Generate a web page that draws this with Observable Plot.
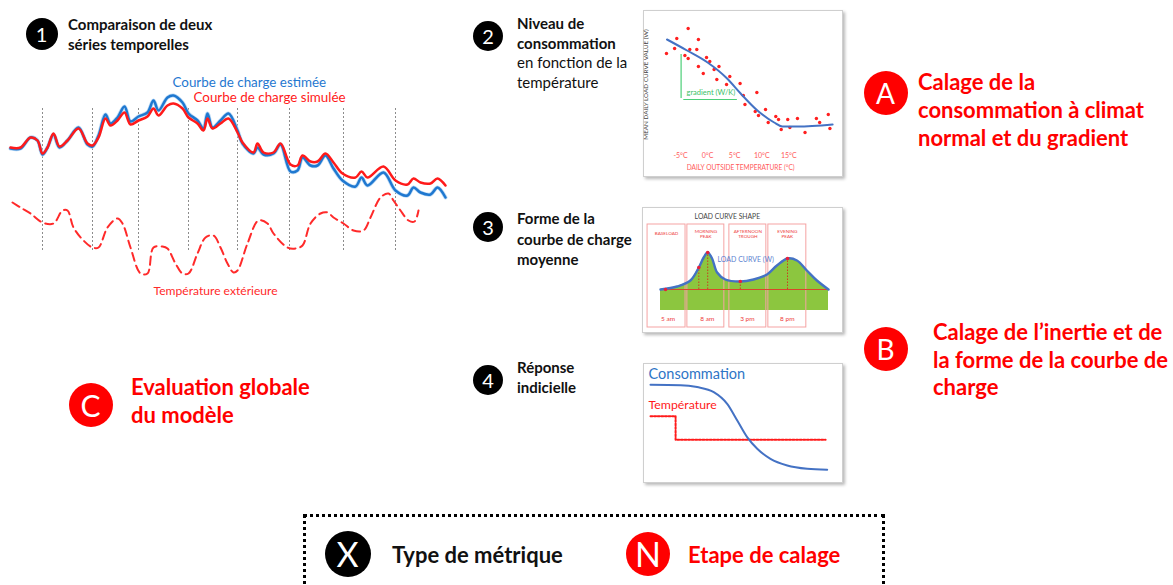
<!DOCTYPE html>
<html><head><meta charset="utf-8">
<script src="https://cdn.jsdelivr.net/npm/d3@7"></script>
<script src="https://cdn.jsdelivr.net/npm/@observablehq/plot@0.6"></script>
<style>
body{margin:0;background:#fff;}
#root{position:relative;width:1173px;height:585px;overflow:hidden;font-family:Lato,"Open Sans",sans-serif;background:#fff;}
.circ{position:absolute;border-radius:50%;display:flex;align-items:center;justify-content:center;color:#fff;line-height:1;}
.box{position:absolute;box-sizing:border-box;border:1px solid #cfcfcf;box-shadow:2px 2px 3px rgba(0,0,0,0.28);background:#fff;}
.txt{position:absolute;white-space:nowrap;}
svg{overflow:visible;}
</style></head><body><div id="root"></div><script>
// ---------- Panel 1 : two time series + outside temperature ----------
const t1 = [10,20,30,37,42,47,53,59,67,78,87,92,98,105,110,117,124,130,138,147,153,158,167,173,182,188,197,203,207,212,220,228,237,242,253,257,263,273,280,290,297,302,310,317,325,333,342,355,361,367,383,395,407,413,420,430,437,445];
const simulee = [183,183,193,190,177,183,197,184,190,202,187,185,193,212,205,210,218,206,210,214,222,215,225,227,222,213,207,200,212,202,207,212,198,188,178,187,178,178,187,166,165,175,169,169,177,168,157,153,159,153,164,150,146,152,148,147,152,145];
const estimee = [182,182,193,190,176,183,196,183,190,203,186,184,195,216,207,213,224,209,214,218,230,220,233,235,228,217,210,202,217,203,210,217,200,187,177,183,176,177,186,159,160,173,165,165,175,162,150,144,153,145,158,140,135,143,138,136,143,133];
const tTemp = [12,20,30,42,53,62,67,73,83,92,98,107,117,122,130,140,147,153,162,167,175,182,188,197,205,213,220,227,233,237,247,258,267,273,287,295,302,310,320,327,333,343,353,363,370,380,388,393,400,408,414,418];
const tempExt = [128,123,117,108,107,120,120,103,90,83,83,103,112,107,83,57,57,83,84,82,67,57,57,77,93,95,83,67,58,60,87,110,107,97,83,82,85,107,117,118,113,107,100,100,113,133,137,130,120,110,109,120];
const gridT = [42,92,138,188,237,289,343,395];

// ---------- Panel 2 : consumption vs temperature ----------
const scatterT = [-7.6,-6.1,-5.7,-3.6,-3.3,-4.2,-3.6,-1.7,-2.0,-1.7,-0.8,-0.2,0.4,1.2,1.7,2.1,3.5,4.1,6.0,6.6,6.9,9.1,8.8,9.4,10.7,11.2,12.6,13.1,13.6,14.8,15.2,16.6,18.0,20.1,20.7,22.3,22.6];
const scatterW = [97,102,112,122,101,95,92,111,101,84,77,93,89,81,71,84,66,74,67,55,46,58,39,35,41,28,34,31,21,31,23,32,18,32,28,36,22];
const fitT = [-7.5,-3.8,0,3.6,6.1,9.2,12.3,13.8,16.6,23.1];
const fitW = [111,100,88,72,57,40,28,24,24,26];
const tempTicks = [-5,0,5,10,15];

// ---------- Panel 3 : load curve shape ----------
const shapeX = [0,9.9,17.8,22.8,25.7,28.1,30.7,33.7,38.6,47.5,55.4,63.4,69.3,75.6,81.2,87.1,93.1,100];
const shapeW = [21,24,30,43,53,58,52,38,31,29,31,36,45,52,50,40,30,21];
const periods = ["BASELOAD","MORNING\nPEAK","AFTERNOON\nTROUGH","EVENING\nPEAK"];
const periodX1 = [-7.7,16.0,41.0,64.2];
const periodX2 = [14.9,38.0,63.0,86.8];
const hours = ["5 am","8 am","3 pm","8 pm"];
const hourX = [4.5,27.9,51.7,75.5];
const markX = [3,22.8,28.1,47.5,75.6];
const markW = [21,43,58,29,52];
const baseW = 21;

// ---------- Panel 4 : step response ----------
const stepT = [0,17,26.4,35.8,43.4,49.1,54.7,60.4,67.9,77.4,88.7,100];
const consoV = [100,99.6,97.3,91.4,77.6,58,38.4,24.7,12.9,5.1,1.2,0];
const tempStepT = [0,14.2,14.2,99.1];
const tempStepV = [63.1,63.1,35.3,35.3];

const root = document.getElementById("root");
const RED = "#ff0000";
function addTxt(lines, left, top, size, lh, color, weights){
  const d = document.createElement("div");
  d.className = "txt";
  d.style.left = left+"px"; d.style.top = top+"px";
  d.style.fontSize = size+"px"; d.style.lineHeight = lh+"px"; d.style.color = color;
  lines.forEach((l,i)=>{const s=document.createElement("div"); s.textContent=l; s.style.fontWeight=(weights?weights[i]:700); d.appendChild(s);});
  root.appendChild(d);
}
function addCirc(label, cx, cy, dia, bg, size){
  const d = document.createElement("div");
  d.className = "circ";
  d.style.left=(cx-dia/2)+"px"; d.style.top=(cy-dia/2)+"px";
  d.style.width=dia+"px"; d.style.height=dia+"px"; d.style.background=bg; d.style.fontSize=size+"px";
  d.textContent = label;
  root.appendChild(d);
}
function addBox(left, top, w, h){
  const d=document.createElement("div"); d.className="box";
  d.style.left=left+"px"; d.style.top=top+"px"; d.style.width=w+"px"; d.style.height=h+"px";
  root.appendChild(d);
}
function place(svg, left, top){
  svg.style.position="absolute"; svg.style.left=left+"px"; svg.style.top=top+"px";
  root.appendChild(svg);
}
const baseStyle = {fontFamily:"Lato", background:"transparent", overflow:"visible"};

// Panel 1
const series1 = t1.map((t,i)=>({t, est:estimee[i], sim:simulee[i]}));
const temp1 = tTemp.map((t,i)=>({t, v:tempExt[i]}));
const p1 = Plot.plot({
  width:460, height:330, margin:0, style:baseStyle,
  x:{domain:[0,460], axis:null}, y:{domain:[0,330], axis:null},
  marks:[
    Plot.ruleX(gridT, {x:d=>d, y1:80, y2:223, stroke:"#8c8c8c", strokeWidth:1, strokeDasharray:"2,2"}),
    Plot.line(series1, {x:"t", y:"est", stroke:"#bcdaf5", strokeWidth:4, curve:"catmull-rom"}),
    Plot.line(series1, {x:"t", y:"est", stroke:"#1f78d0", strokeWidth:2.5, curve:"catmull-rom"}),
    Plot.line(series1, {x:"t", y:"sim", stroke:"#ff1a1a", strokeWidth:2.5, curve:"catmull-rom"}),
    Plot.line(temp1, {x:"t", y:"v", stroke:"#ff2a2a", strokeWidth:2, strokeDasharray:"8,5", curve:"catmull-rom"}),
    Plot.text(["Courbe de charge estimée"], {x:172, y:248, text:d=>d, textAnchor:"start", fill:"#1f78d0", fontSize:13.4}),
    Plot.text(["Courbe de charge simulée"], {x:193, y:233, text:d=>d, textAnchor:"start", fill:"#ff1a1a", fontSize:13.4}),
    Plot.text(["Température extérieure"], {x:153, y:39, text:d=>d, textAnchor:"start", fill:"#ff2a2a", fontSize:12.1})
  ]
});
place(p1, 0, 0);
addCirc("1", 41.5, 34, 32, "#000", 20);
addTxt(["Comparaison de deux","séries temporelles"], 68, 14, 15, 20, "#111");

// Panel 2
addBox(643, 10, 200, 167);
const pts2 = scatterT.map((T,i)=>({T, W:scatterW[i]}));
const fit2 = fitT.map((T,i)=>({T, W:fitW[i]}));
const p2 = Plot.plot({
  width:200, height:167, margin:0, style:baseStyle,
  x:{domain:[-10,24], range:[10,194], axis:null}, y:{domain:[0,140], range:[140,0], axis:null},
  marks:[
    Plot.dot(pts2, {x:"T", y:"W", r:1.7, fill:"#ff1f1f", stroke:"none"}),
    Plot.line(fit2, {x:"T", y:"W", stroke:"#4472c4", strokeWidth:2, curve:"monotone-x"}),
    Plot.ruleX([-4.9], {x:d=>d, y1:52, y2:96, stroke:"#4ccf78", strokeWidth:1.2}),
    Plot.ruleY([51], {y:d=>d, x1:-4.4, x2:5.5, stroke:"#4ccf78", strokeWidth:1.2}),
    Plot.text(["gradient (W/K)"], {x:-3.9, y:58, text:d=>d, textAnchor:"start", fill:"#3cbf68", fontSize:7.5}),
    Plot.text(tempTicks, {x:d=>d, y:-5, text:d=>d+"°C", fill:"#ff5a5a", fontSize:7}),
    Plot.text(["DAILY OUTSIDE TEMPERATURE (°C)"], {x:6.1, y:-17, text:d=>d, fill:"#ff5a5a", fontSize:6.6}),
    Plot.text(["MEAN DAILY LOAD CURVE VALUE (W)"], {x:-11.3, y:66, text:d=>d, rotate:-90, fill:"#444", fontSize:6.3})
  ]
});
place(p2, 643, 10);
addCirc("2", 488, 36, 30, "#000", 20);
addTxt(["Niveau de","consommation","en fonction de la","température"], 517, 14, 15, 19.5, "#111", [700,700,400,400]);

// Panel 3
addBox(642, 207, 201, 126);
const shape3 = shapeX.map((x,i)=>({x, W:shapeW[i]}));
const per3 = periods.map((p,i)=>({p, x1:periodX1[i], x2:periodX2[i]}));
const hrs3 = hours.map((h,i)=>({h, x:hourX[i]}));
const mk3 = markX.map((x,i)=>({x, W:markW[i]}));
const p3 = Plot.plot({
  width:201, height:126, margin:0, style:baseStyle,
  x:{domain:[0,100], range:[18,186], axis:null}, y:{domain:[0,100], range:[103,3], axis:null},
  marks:[
    Plot.areaY(shape3, {x:"x", y1:0, y2:"W", fill:"#8cc63f", curve:"catmull-rom"}),
    Plot.rect(per3, {x1:"x1", x2:"x2", y1:-17, y2:86, fill:"none", stroke:"#f5a3a3", strokeWidth:1}),
    Plot.ruleY([baseW], {y:d=>d, x1:0, x2:100, stroke:"#d9462a", strokeWidth:1}),
    Plot.ruleX(mk3, {x:"x", y1:baseW, y2:"W", stroke:"#c8401f", strokeWidth:1, strokeDasharray:"1.5,1.5"}),
    Plot.line(shape3, {x:"x", y:"W", stroke:"#4472c4", strokeWidth:2.4, curve:"catmull-rom"}),
    Plot.dot(mk3, {x:"x", y:"W", r:1.8, fill:"#e8203a"}),
    Plot.text(["LOAD CURVE SHAPE"], {x:39.8, y:94, text:d=>d, fill:"#444", fontSize:6.8}),
    Plot.text(per3, {x:d=>(d.x1+d.x2)/2, y:77, text:"p", fill:"#ee3b3b", fontSize:4.6, lineHeight:1.2}),
    Plot.text(hrs3, {x:"x", y:-8, text:"h", fill:"#ee3b3b", fontSize:6.5}),
    Plot.text(["LOAD CURVE (W)"], {x:33.9, y:51, text:d=>d, textAnchor:"start", fill:"#5b7fd0", fontSize:7})
  ]
});
place(p3, 642, 207);
addCirc("3", 488, 227, 30, "#000", 20);
addTxt(["Forme de la","courbe de charge","moyenne"], 517, 208, 15, 20.5, "#111");

// Panel 4
addBox(643, 363, 200, 120);
const conso4 = stepT.map((t,i)=>({t, v:consoV[i]}));
const temp4 = tempStepT.map((t,i)=>({t, v:tempStepV[i]}));
const p4 = Plot.plot({
  width:200, height:120, margin:0, style:baseStyle,
  x:{domain:[0,100], range:[7,183.7], axis:null}, y:{domain:[0,100], range:[106.3,21.3], axis:null},
  marks:[
    Plot.line(temp4, {x:"t", y:"v", stroke:"#ff1a1a", strokeWidth:2, strokeDasharray:"2,1.6"}),
    Plot.line(conso4, {x:"t", y:"v", stroke:"#4472c4", strokeWidth:2, curve:"monotone-x"}),
    Plot.text(["Consommation"], {x:-1.1, y:112, text:d=>d, textAnchor:"start", fill:"#2e75c6", fontSize:14.5}),
    Plot.text(["Température"], {x:-1.1, y:75.6, text:d=>d, textAnchor:"start", fill:"#ff1a1a", fontSize:12.3})
  ]
});
place(p4, 643, 363);
addCirc("4", 488, 380, 30, "#000", 20);
addTxt(["Réponse","indicielle"], 517, 358, 15, 19.5, "#111");

// Calibration steps
addCirc("A", 885.5, 93, 44, RED, 28);
addTxt(["Calage de la","consommation à climat","normal et du gradient"], 918, 68, 22, 28, RED);
addCirc("B", 885.5, 349, 44, RED, 28);
addTxt(["Calage de l’inertie et de","la forme de la courbe de","charge"], 933, 318, 22, 27.5, RED);
addCirc("C", 90.5, 405, 44, RED, 30);
addTxt(["Evaluation globale","du modèle"], 131, 373, 22, 28, RED);

// Legend
const lg = document.createElement("div");
lg.style.cssText = "position:absolute;left:303px;top:514px;width:582px;height:120px;box-sizing:border-box;border:3px dotted #000;";
root.appendChild(lg);
addCirc("X", 347.5, 554, 46, "#000", 34);
addTxt(["Type de métrique"], 392, 541, 22, 28, "#111");
addCirc("N", 648, 553.5, 44, RED, 34);
addTxt(["Etape de calage"], 688, 541, 22, 28, RED);
</script></body></html>
